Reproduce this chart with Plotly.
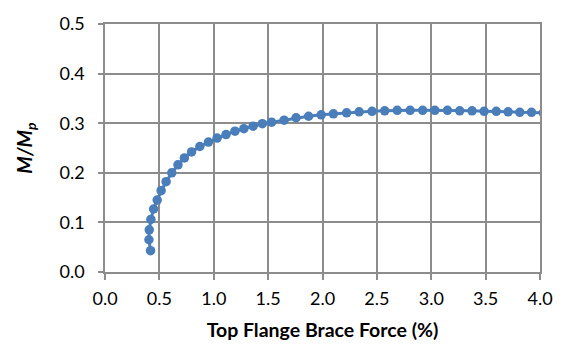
import plotly.graph_objects as go

# Brace force (% of flange force) vs. normalised moment M/Mp
brace_force = [
    0.419, 0.404, 0.407, 0.422, 0.447, 0.480, 0.516, 0.562, 0.614, 0.671,
    0.730, 0.796, 0.872, 0.951, 1.031, 1.113, 1.195, 1.277, 1.362, 1.447,
    1.532, 1.647, 1.757, 1.872, 1.988, 2.100, 2.222, 2.337, 2.456, 2.572,
    2.687, 2.806, 2.921, 3.033, 3.149, 3.262, 3.375, 3.486, 3.598, 3.707,
    3.814, 3.922, 4.030,
]
moment_ratio = [
    0.043, 0.065, 0.085, 0.106, 0.127, 0.145, 0.164, 0.182, 0.200, 0.216,
    0.230, 0.242, 0.253, 0.262, 0.270, 0.277, 0.284, 0.289, 0.294, 0.299,
    0.302, 0.306, 0.311, 0.314, 0.317, 0.319, 0.321, 0.323, 0.324, 0.325,
    0.326, 0.326, 0.326, 0.326, 0.326, 0.325, 0.325, 0.324, 0.324, 0.323,
    0.322, 0.322, 0.321,
]

x_ticks = [0.0, 0.5, 1.0, 1.5, 2.0, 2.5, 3.0, 3.5, 4.0]
y_ticks = [0.0, 0.1, 0.2, 0.3, 0.4, 0.5]

blue = "#4A7EBB"
grid = "#8c8c8c"
font_family = "Lato, 'Open Sans', sans-serif"

fig = go.Figure(
    go.Scatter(
        x=brace_force,
        y=moment_ratio,
        mode="lines+markers",
        line=dict(color=blue, width=3),
        marker=dict(color=blue, size=9.5),
        cliponaxis=True,
        showlegend=False,
    )
)

fig.update_layout(
    width=565,
    height=350,
    margin=dict(l=105, r=22, t=14, b=77),
    paper_bgcolor="white",
    plot_bgcolor="white",
    font=dict(family=font_family, size=18, color="#000000"),
)

fig.update_xaxes(
    range=[0, 4],
    tickvals=x_ticks,
    ticktext=[f"{v:.1f}" for v in x_ticks],
    tickfont=dict(size=18),
    showgrid=True,
    gridcolor=grid,
    gridwidth=1.5,
    showline=True,
    linecolor=grid,
    linewidth=1.5,
    mirror=True,
    ticks="outside",
    ticklen=6,
    tickwidth=1.5,
    tickcolor=grid,
    ticklabelstandoff=4,
    zeroline=False,
    title=dict(text="<b>Top Flange Brace Force (%)</b>", font=dict(size=19.5), standoff=15),
)

fig.update_yaxes(
    range=[0, 0.5],
    tickvals=y_ticks,
    ticktext=[f"{v:.1f}" for v in y_ticks],
    tickfont=dict(size=18),
    showgrid=True,
    gridcolor=grid,
    gridwidth=1.5,
    showline=True,
    linecolor=grid,
    linewidth=1.5,
    mirror=True,
    ticks="outside",
    ticklen=5,
    tickwidth=1.5,
    tickcolor=grid,
    ticklabelstandoff=10,
    zeroline=False,
    title=dict(text="<b><i>M/M<sub>p</sub></i></b>", font=dict(size=20), standoff=22),
)

fig.write_html("out.html")
